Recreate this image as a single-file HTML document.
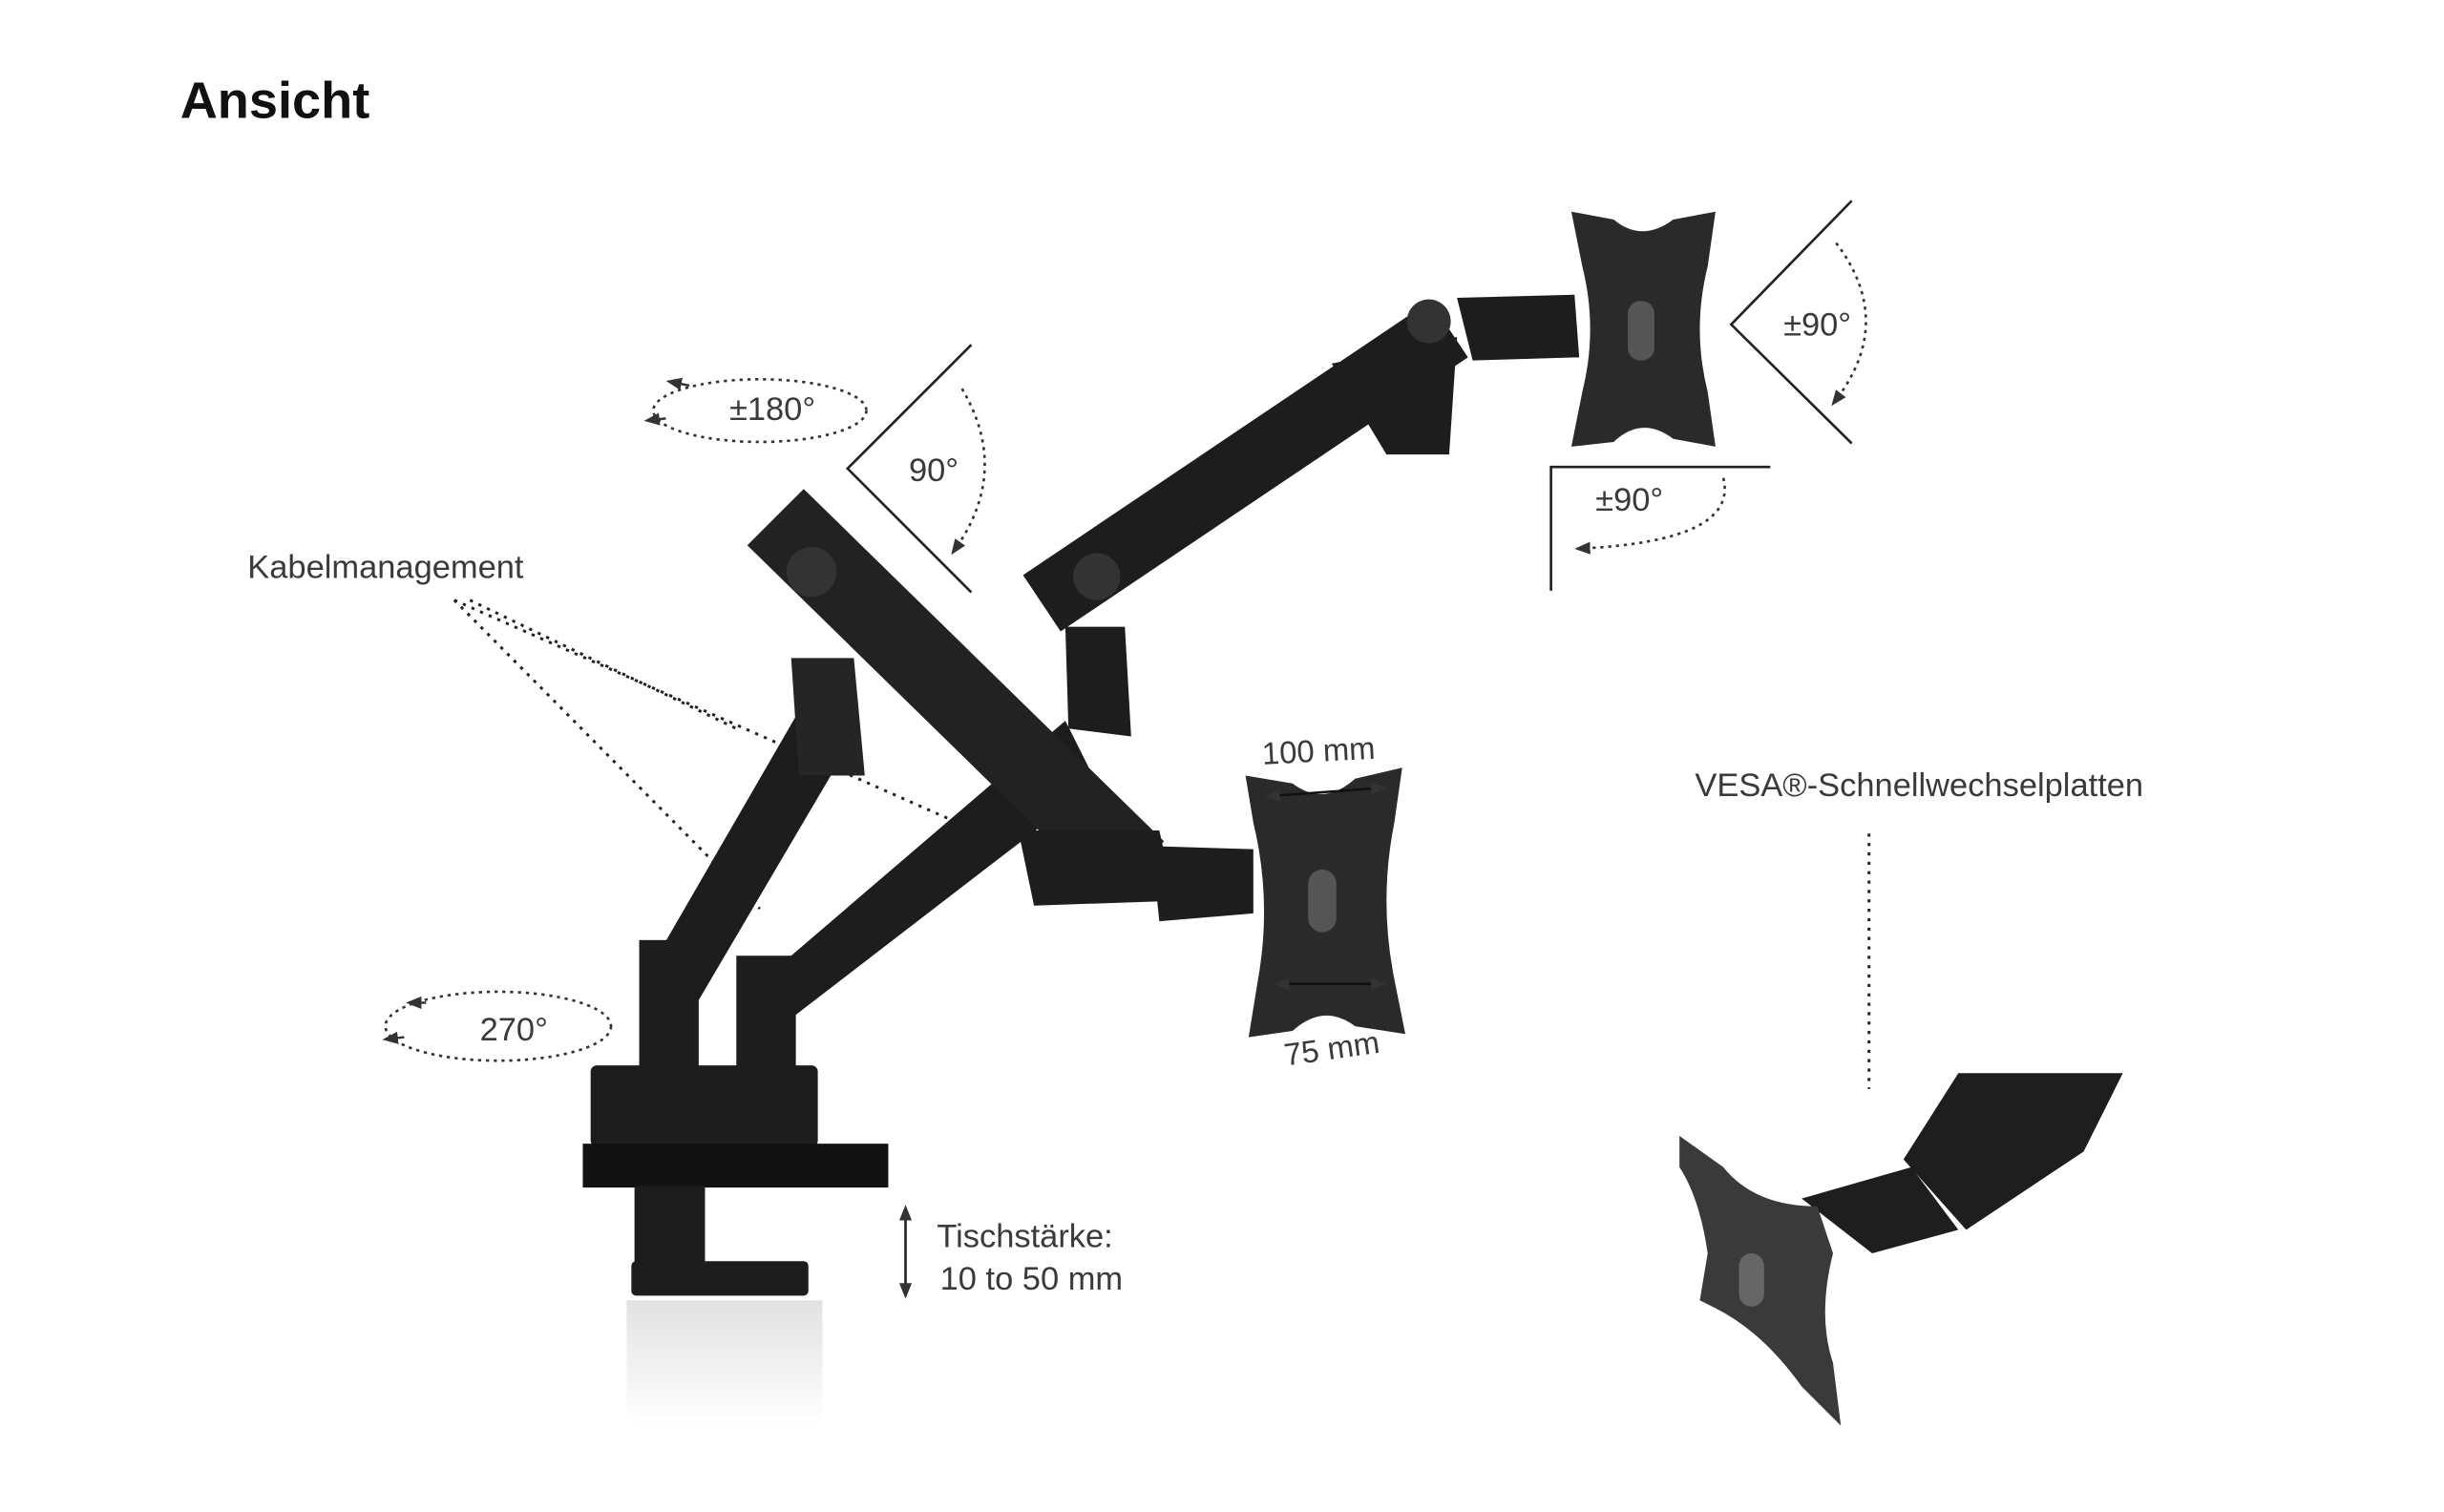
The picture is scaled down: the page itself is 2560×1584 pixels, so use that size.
<!DOCTYPE html>
<html><head><meta charset="utf-8"><style>
html,body{margin:0;padding:0;background:#fff;}
svg{display:block}
text{font-family:"Liberation Sans",sans-serif;fill:#3a3a3a}
</style></head><body>
<svg width="2560" height="1584" viewBox="0 0 1560 965" xmlns="http://www.w3.org/2000/svg">
<defs>
<marker id="ah" markerUnits="userSpaceOnUse" markerWidth="10" markerHeight="8" refX="5" refY="4" orient="auto"><path d="M0,0 L10,4 L0,8 z" fill="#333"/></marker>
<marker id="ahs" markerUnits="userSpaceOnUse" markerWidth="10" markerHeight="8" refX="5" refY="4" orient="auto-start-reverse"><path d="M0,0 L10,4 L0,8 z" fill="#333"/></marker>
<linearGradient id="refl" x1="0" y1="0" x2="0" y2="1"><stop offset="0" stop-color="#e2e2e2"/><stop offset="1" stop-color="#fff"/></linearGradient>
</defs>
<text x="115" y="75" font-size="33" font-weight="bold" style="fill:#111">Ansicht</text>

<!-- ±180 -->
<ellipse cx="485" cy="262" rx="68" ry="20" fill="none" stroke="#333" stroke-width="1.6" stroke-dasharray="2,3"/>
<path d="M440,246 L430,244" stroke="#333" stroke-width="1.5" marker-end="url(#ah)"/>
<path d="M425,267 L416,268" stroke="#333" stroke-width="1.5" marker-end="url(#ah)"/>
<text x="493" y="268" font-size="21" text-anchor="middle">±180°</text>
<polyline points="620,220 541,299 620,378" fill="none" stroke="#222" stroke-width="1.6"/>
<text x="596" y="307" font-size="21" text-anchor="middle">90°</text>
<path d="M614,248 Q645,300 610,350" fill="none" stroke="#333" stroke-width="1.6" stroke-dasharray="2,3" marker-end="url(#ah)"/>

<text x="158" y="369" font-size="21">Kabelmanagement</text>
<g stroke="#222" stroke-width="1.8" stroke-dasharray="2,4" fill="none">
<line x1="290" y1="383" x2="645" y2="540"/>
<line x1="290" y1="383" x2="485" y2="580"/>
<line x1="300" y1="383" x2="470" y2="465"/>
</g>

<!-- 270 -->
<ellipse cx="318" cy="655" rx="72" ry="22" fill="none" stroke="#333" stroke-width="1.6" stroke-dasharray="2,3"/>
<path d="M272,640 L264,640" stroke="#333" stroke-width="1.5" marker-end="url(#ah)"/>
<path d="M258,662 L249,663" stroke="#333" stroke-width="1.5" marker-end="url(#ah)"/>
<text x="328" y="664" font-size="21" text-anchor="middle">270°</text>

<rect x="400" y="830" width="125" height="80" fill="url(#refl)"/>

<g fill="#1d1d1d">
<rect x="377" y="680" width="145" height="52" rx="4"/>
<rect x="372" y="730" width="195" height="28" fill="#111"/>
<rect x="405" y="757" width="45" height="60"/>
<rect x="403" y="805" width="113" height="22" rx="3"/>
<rect x="408" y="600" width="38" height="85"/>
<rect x="470" y="610" width="38" height="75"/>
<polygon points="408,630 445,640 545,470 515,445"/>
<polygon points="505,420 545,420 552,495 510,495" fill="#252525"/>
<polygon points="470,640 505,650 700,500 680,460"/>
<!-- long arm back -->
<polygon points="653,367 913,192 937,228 677,403"/>
<polygon points="680,400 718,400 722,470 682,465"/>
<circle cx="700" cy="368" r="15" fill="#333"/>
<polygon points="850,232 930,215 925,290 885,290"/>
<circle cx="912" cy="205" r="14" fill="#333"/>
<polygon points="930,190 1005,188 1008,228 940,230"/>
<!-- upper arm front -->
<polygon points="477,348 513,312 743,537 707,573" fill="#222"/>
<circle cx="518" cy="365" r="16" fill="#333"/>
<circle cx="712" cy="552" r="14" fill="#333"/>
<polygon points="650,530 740,530 750,575 660,578"/>
<polygon points="735,540 800,542 800,583 740,588"/>
</g>

<!-- VESA small -->
<path d="M795,495 L825,500 Q845,515 865,497 L895,490 L890,525 Q880,575 890,625 L897,660 L865,655 Q845,640 825,658 L797,662 L803,625 Q812,575 800,525 Z" fill="#2a2a2a"/>
<rect x="835" y="555" width="18" height="40" rx="9" fill="#555"/>
<line x1="812" y1="508" x2="880" y2="503" stroke="#111" stroke-width="1.5" marker-end="url(#ah)" marker-start="url(#ahs)"/>
<line x1="818" y1="628" x2="880" y2="628" stroke="#111" stroke-width="1.5" marker-end="url(#ah)" marker-start="url(#ahs)"/>
<text x="842" y="486" font-size="20" text-anchor="middle" transform="rotate(-3 842 486)">100 mm</text>
<text x="851" y="676" font-size="20" text-anchor="middle" transform="rotate(-8 851 676)">75 mm</text>

<!-- VESA big -->
<path d="M1003,135 L1030,140 Q1048,155 1068,140 L1095,135 L1090,170 Q1080,210 1090,250 L1095,285 L1068,280 Q1048,265 1030,282 L1003,285 L1010,250 Q1020,210 1010,170 Z" fill="#2a2a2a"/>
<rect x="1039" y="192" width="17" height="38" rx="8" fill="#555"/>

<polyline points="1182,128 1105,207 1182,283" fill="none" stroke="#222" stroke-width="1.6"/>
<text x="1160" y="214" font-size="21" text-anchor="middle">±90°</text>
<path d="M1172,155 Q1210,205 1172,255" fill="none" stroke="#333" stroke-width="1.6" stroke-dasharray="2,3" marker-end="url(#ah)"/>
<polyline points="1130,298 990,298 990,377" fill="none" stroke="#222" stroke-width="1.6"/>
<text x="1040" y="326" font-size="21" text-anchor="middle">±90°</text>
<path d="M1100,305 Q1110,345 1010,350" fill="none" stroke="#333" stroke-width="1.6" stroke-dasharray="2,3" marker-end="url(#ah)"/>

<line x1="578" y1="774" x2="578" y2="824" stroke="#222" stroke-width="1.6" marker-end="url(#ah)" marker-start="url(#ahs)"/>
<text x="598" y="796" font-size="21">Tischstärke:</text>
<text x="600" y="823" font-size="21">10 to 50 mm</text>

<text x="1225" y="508" font-size="21" text-anchor="middle">VESA®-Schnellwechselplatten</text>
<line x1="1193" y1="532" x2="1193" y2="695" stroke="#222" stroke-width="1.8" stroke-dasharray="2,4"/>
<g fill="#1e1e1e">
<polygon points="1215,740 1250,685 1355,685 1330,735 1255,785"/>
<polygon points="1150,765 1220,745 1250,785 1195,800"/>
</g>
<path d="M1072,725 L1100,745 Q1120,770 1160,770 L1170,800 Q1160,840 1170,870 L1175,910 L1150,885 Q1125,850 1095,835 L1085,830 L1090,800 Q1085,765 1072,745 Z" fill="#3a3a3a"/>
<rect x="1110" y="800" width="16" height="34" rx="8" fill="#666"/>
</svg>
</body></html>
